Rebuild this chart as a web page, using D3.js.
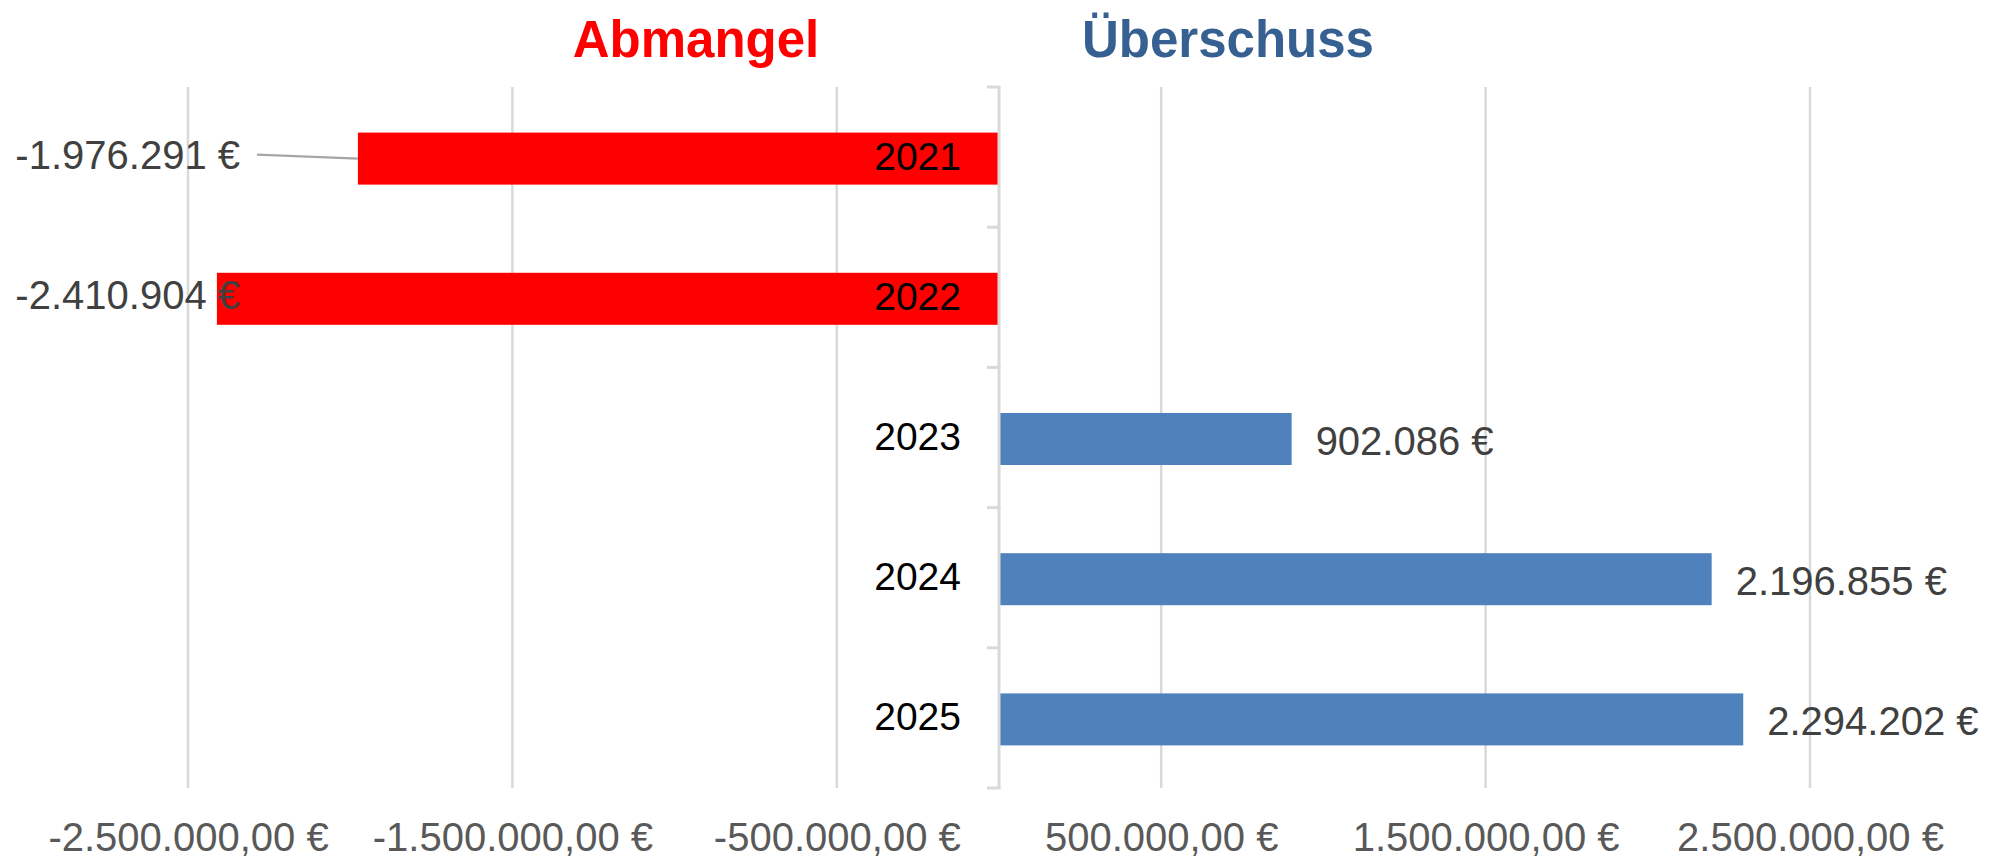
<!DOCTYPE html>
<html>
<head>
<meta charset="utf-8">
<script src="https://cdn.jsdelivr.net/npm/d3@7"></script>
<style>
  html, body { margin: 0; padding: 0; background: #ffffff; }
  svg { display: block; font-family: "Liberation Sans", Arial, sans-serif; }
</style>
</head>
<body>
<svg id="chart" width="1989" height="860"></svg>
<script>
// ---- data ----
const years = ["2021", "2022", "2023", "2024", "2025"];
const values = [-1976291, -2410904, 902086, 2196855, 2294202];
const tickValues = [-2500000, -1500000, -500000, 500000, 1500000, 2500000];
const titleNegative = "Abmangel";
const titlePositive = "Überschuss";

// ---- layout ----
const W = 1989, H = 860;
const plotTop = 87, plotBottom = 788;
const xLeft = 188, xRight = 1810;

const locale = d3.formatLocale({
  decimal: ",", thousands: ".", grouping: [3], currency: ["", " €"], minus: "-"
});
const fmtTick = v => locale.format(",.2f")(v) + " €";
const fmtVal = v => locale.format(",.0f")(v) + " €";

const svg = d3.select("#chart");

const x = d3.scaleLinear().domain([-2500000, 2500000]).range([xLeft, xRight]);
const y = d3.scaleBand().domain(years).range([plotTop + 1.5, plotBottom + 1.5])
  .paddingInner(0.629).paddingOuter(0.3145);

const data = years.map((yr, i) => ({ year: yr, value: values[i] }));

// gridlines
svg.append("g").selectAll("line").data(tickValues).join("line")
  .attr("x1", d => x(d)).attr("x2", d => x(d))
  .attr("y1", plotTop).attr("y2", plotBottom)
  .attr("stroke", "#d9d9d9").attr("stroke-width", 2.5);

// bars
svg.append("g").selectAll("rect").data(data).join("rect")
  .attr("x", d => Math.min(x(0), x(d.value)))
  .attr("width", d => Math.abs(x(d.value) - x(0)))
  .attr("y", d => y(d.year))
  .attr("height", y.bandwidth())
  .attr("fill", d => d.value < 0 ? "#ff0000" : "#4f81bd");

// category axis at zero with ticks at band boundaries
const x0 = x(0);
const bounds = d3.range(years.length + 1).map(i => plotTop + i * (plotBottom - plotTop) / years.length);
const axisG = svg.append("g");
axisG.append("line")
  .attr("x1", x0).attr("x2", x0).attr("y1", plotTop).attr("y2", plotBottom)
  .attr("stroke", "#d9d9d9").attr("stroke-width", 3);
axisG.selectAll("line.tick").data(bounds).join("line").attr("class", "tick")
  .attr("x1", x0 - 12).attr("x2", x0 + 1.5)
  .attr("y1", d => d).attr("y2", d => d)
  .attr("stroke", "#d9d9d9").attr("stroke-width", 3);

// year labels
svg.append("g").selectAll("text").data(data).join("text")
  .attr("x", x0 - 38)
  .attr("y", d => y(d.year) + y.bandwidth() / 2 + 11)
  .attr("text-anchor", "end")
  .attr("font-size", 39)
  .attr("fill", "#000000")
  .text(d => d.year);

// x axis tick labels
const xAxis = d3.axisBottom(x).tickValues(tickValues).tickSize(0).tickPadding(0).tickFormat(fmtTick);
const xg = svg.append("g").attr("transform", `translate(0,${plotBottom})`).call(xAxis);
xg.select(".domain").remove();
xg.selectAll("text")
  .attr("y", 63).attr("dy", null)
  .attr("font-size", 40)
  .attr("font-family", "Liberation Sans, Arial, sans-serif")
  .attr("fill", "#595959");

// value labels
const negLabelEnd = x(-2500000) + 52;
const labels = svg.append("g");
data.forEach(d => {
  const cy = y(d.year) + y.bandwidth() / 2;
  if (d.value < 0) {
    const base = cy + 10;
    labels.append("text")
      .attr("x", negLabelEnd).attr("y", base)
      .attr("text-anchor", "end").attr("font-size", 40).attr("fill", "#404040")
      .text(fmtVal(d.value));
    if (negLabelEnd + 10 < x(d.value)) {
      labels.append("line")
        .attr("x1", negLabelEnd + 17).attr("y1", base - 14)
        .attr("x2", x(d.value)).attr("y2", cy)
        .attr("stroke", "#a6a6a6").attr("stroke-width", 2.2);
    }
  } else {
    labels.append("text")
      .attr("x", x(d.value) + 24).attr("y", cy + 16)
      .attr("text-anchor", "start").attr("font-size", 40).attr("fill", "#404040")
      .text(fmtVal(d.value));
  }
});

// titles
svg.append("text")
  .attr("x", 696).attr("y", 57)
  .attr("text-anchor", "middle").attr("font-size", 51).attr("font-weight", "bold")
  .attr("fill", "#ff0000").text(titleNegative);
svg.append("text")
  .attr("x", 1228).attr("y", 57)
  .attr("text-anchor", "middle").attr("font-size", 51).attr("font-weight", "bold")
  .attr("fill", "#376092").text(titlePositive);
</script>
</body>
</html>
